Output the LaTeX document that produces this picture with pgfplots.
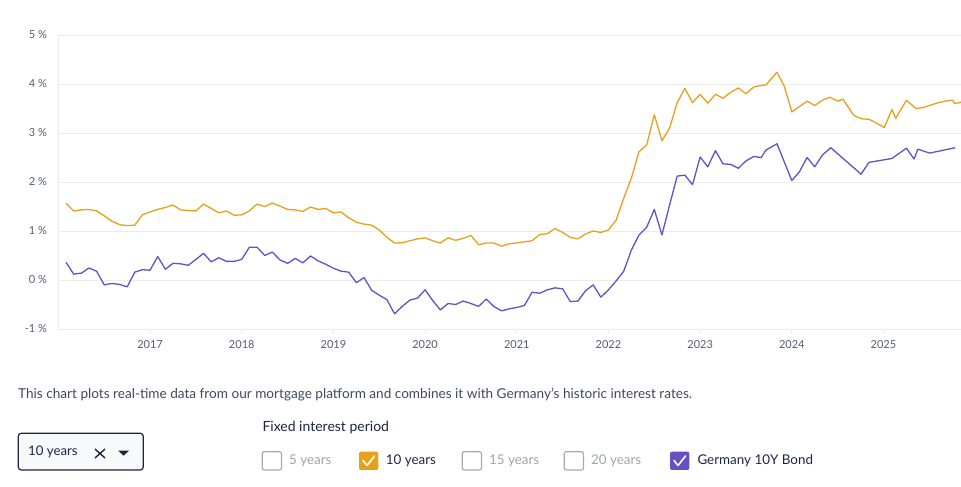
\documentclass[border=0pt]{standalone}
\usepackage{fontspec}
\setmainfont{Lato}
\usepackage{pgfplots}
\pgfplotsset{compat=1.18}
\definecolor{orangeL}{HTML}{E6A11C}
\definecolor{purpleL}{HTML}{6650C8}
\definecolor{gridc}{HTML}{EBEBEB}
\definecolor{tickc}{HTML}{505C70}
\definecolor{navy}{HTML}{1C2541}
\definecolor{textc}{HTML}{3E4A5E}
\definecolor{boxg}{HTML}{A9A9A9}
\definecolor{labg}{HTML}{A0A4AA}

\pgfplotstableread{
m v
0 1.565
1 1.41
2 1.43
3 1.44
4 1.41
5 1.31
6 1.20
7 1.13
8 1.11
9 1.12
10 1.33
11 1.39
12 1.44
13 1.48
14 1.53
15 1.43
16 1.42
17 1.41
18 1.55
19 1.46
20 1.37
21 1.41
22 1.32
23 1.33
24 1.41
25 1.55
26 1.50
27 1.57
28 1.51
29 1.44
30 1.43
31 1.40
32 1.49
33 1.44
34 1.46
35 1.37
36 1.39
37 1.27
38 1.18
39 1.14
40 1.12
41 1.02
42 0.87
43 0.755
44 0.76
45 0.80
46 0.84
47 0.86
48 0.80
49 0.755
50 0.86
51 0.81
52 0.85
53 0.91
54 0.72
55 0.755
56 0.755
57 0.69
58 0.74
59 0.755
60 0.78
61 0.80
62 0.93
63 0.945
64 1.05
65 0.97
66 0.87
67 0.84
68 0.94
69 1.00
70 0.97
71 1.02
72 1.22
73 1.67
74 2.08
75 2.62
76 2.755
77 3.37
78 2.84
79 3.10
80 3.62
81 3.91
82 3.62
83 3.79
84 3.61
85 3.79
86 3.71
87 3.83
88 3.92
89 3.80
90 3.94
91 3.97
91.6 3.98
93.06 4.24
94 3.96
95 3.43
96 3.54
97 3.65
98 3.56
99 3.67
100 3.73
101 3.65
101.7 3.69
103.1 3.36
104.1 3.29
105.1 3.28
106.1 3.20
107.1 3.11
108.1 3.48
108.6 3.30
110 3.67
111.26 3.50
112.2 3.52
113.96 3.61
115.09 3.65
116.06 3.67
116.32 3.60
117.15 3.63
}\tenyears

\pgfplotstableread{
m v
0 0.36
1 0.12
2 0.14
3 0.245
4 0.18
5 -0.10
6 -0.07
7 -0.09
8 -0.14
9 0.16
10 0.21
11 0.20
12 0.48
13 0.22
14 0.34
15 0.33
16 0.30
17 0.42
18 0.545
19 0.37
20 0.455
21 0.38
22 0.38
23 0.42
24 0.67
25 0.67
26 0.50
27 0.57
28 0.41
29 0.34
30 0.44
31 0.35
32 0.49
33 0.39
34 0.32
35 0.24
36 0.18
37 0.16
38 -0.055
39 0.05
40 -0.21
41 -0.31
42 -0.40
43 -0.69
44 -0.54
45 -0.41
46 -0.37
47 -0.20
48 -0.42
49 -0.61
50 -0.48
51 -0.50
52 -0.43
53 -0.48
54 -0.54
55 -0.39
56 -0.54
57 -0.63
58 -0.59
59 -0.56
60 -0.52
61 -0.25
62 -0.27
63 -0.20
64 -0.16
65 -0.18
66 -0.44
67 -0.43
68 -0.22
69 -0.10
70 -0.35
71 -0.20
72 -0.02
73 0.18
74 0.61
75 0.92
76 1.075
77 1.44
78 0.92
79 1.53
80 2.12
81 2.14
82 1.945
83 2.51
84 2.31
85 2.64
86 2.37
87 2.36
88 2.28
89 2.43
90 2.52
91 2.50
91.6 2.65
93.06 2.78
95 2.03
96 2.21
97 2.50
98 2.31
99 2.55
100.1 2.70
104.06 2.16
105.1 2.40
105.46 2.41
108.1 2.48
110 2.69
111 2.47
111.5 2.67
113.05 2.59
116.4 2.70
}\bond

\begin{document}
\begin{tikzpicture}[x=1pt,y=1pt]
\path[use as bounding box] (0,0) rectangle (961,487);
\begin{axis}[
  at={(58.4pt,158pt)}, anchor=south west, scale only axis,
  width=924.4pt, height=294pt,
  xmin=-1, xmax=120, ymin=-1, ymax=5,
  axis line style={draw=none},
  ymajorgrids, grid style={draw=gridc, line width=0.8pt},
  ytick={-1,0,1,2,3,4,5},
  yticklabels={-1 \%,0 \%,1 \%,2 \%,3 \%,4 \%,5 \%},
  ytick style={draw=none},
  xtick={11,23,35,47,59,71,83,95,107},
  xticklabels={2017,2018,2019,2020,2021,2022,2023,2024,2025},
  xtick style={draw=gridc, line width=0.8pt},
  xtick pos=bottom, ytick pos=left,
  tick align=outside, major tick length=5pt,
  extra x ticks={-1}, extra x tick labels={},
  extra x tick style={xmajorgrids, major tick length=0pt},
  tick label style={font=\fontsize{11}{13}\selectfont, text=tickc},
  yticklabel style={xshift=-3pt},
  xticklabel style={yshift=-2.5pt},
  clip=true,
]
\addplot[orangeL, line width=1.3pt, line join=round] table[x=m, y=v] {\tenyears};
\addplot[purpleL, line width=1.3pt, line join=round] table[x=m, y=v] {\bond};
\end{axis}

% description
\node[anchor=base west, inner sep=0, text=textc, font=\fontsize{13.6}{16}\selectfont]
  at (18,88.7) {This chart plots real-time data from our mortgage platform and combines it with Germany’s historic interest rates.};
\node[anchor=base west, inner sep=0, text=navy, font=\fontsize{14}{16}\selectfont]
  at (262.3,55.3) {Fixed interest period};

% dropdown
\draw[navy, line width=1.2pt, fill={rgb,255:red,248;green,249;blue,251}, rounded corners=3pt]
  (18.3,17) rectangle (143.3,53.7);
\node[anchor=base west, inner sep=0, text=navy, font=\fontsize{13.2}{15}\selectfont] at (28,31) {10 years};
\draw[navy, line width=1.4pt] (95,38) -- (105,29) (95,29) -- (105,38);
\fill[navy] (118.3,36.3) -- (129,36.3) -- (123.65,31.3) -- cycle;

% checkboxes
\foreach \bx in {262.3, 462.3, 564.3} {
  \draw[boxg, line width=1.2pt, rounded corners=2pt] (\bx,17) rectangle ++(19.2,18.3);
}
\fill[orangeL, rounded corners=2pt] (359,17) rectangle ++(19.3,18.3);
\draw[white, line width=1.6pt, line cap=round, line join=round] (363,26.5) -- (367,21.5) -- (374.5,31);
\fill[purpleL, rounded corners=2pt] (670,17) rectangle ++(19.3,18.3);
\draw[white, line width=1.6pt, line cap=round, line join=round] (674,26.5) -- (678,21.5) -- (685.5,31);

\node[anchor=base west, inner sep=0, text=labg, font=\fontsize{13.4}{15}\selectfont] at (289,22) {5 years};
\node[anchor=base west, inner sep=0, text=navy, font=\fontsize{13.4}{15}\selectfont] at (385.7,22) {10 years};
\node[anchor=base west, inner sep=0, text=labg, font=\fontsize{13.4}{15}\selectfont] at (489,22) {15 years};
\node[anchor=base west, inner sep=0, text=labg, font=\fontsize{13.4}{15}\selectfont] at (591,22) {20 years};
\node[anchor=base west, inner sep=0, text=navy, font=\fontsize{13.4}{15}\selectfont] at (697.3,22) {Germany 10Y Bond};
\end{tikzpicture}
\end{document}
